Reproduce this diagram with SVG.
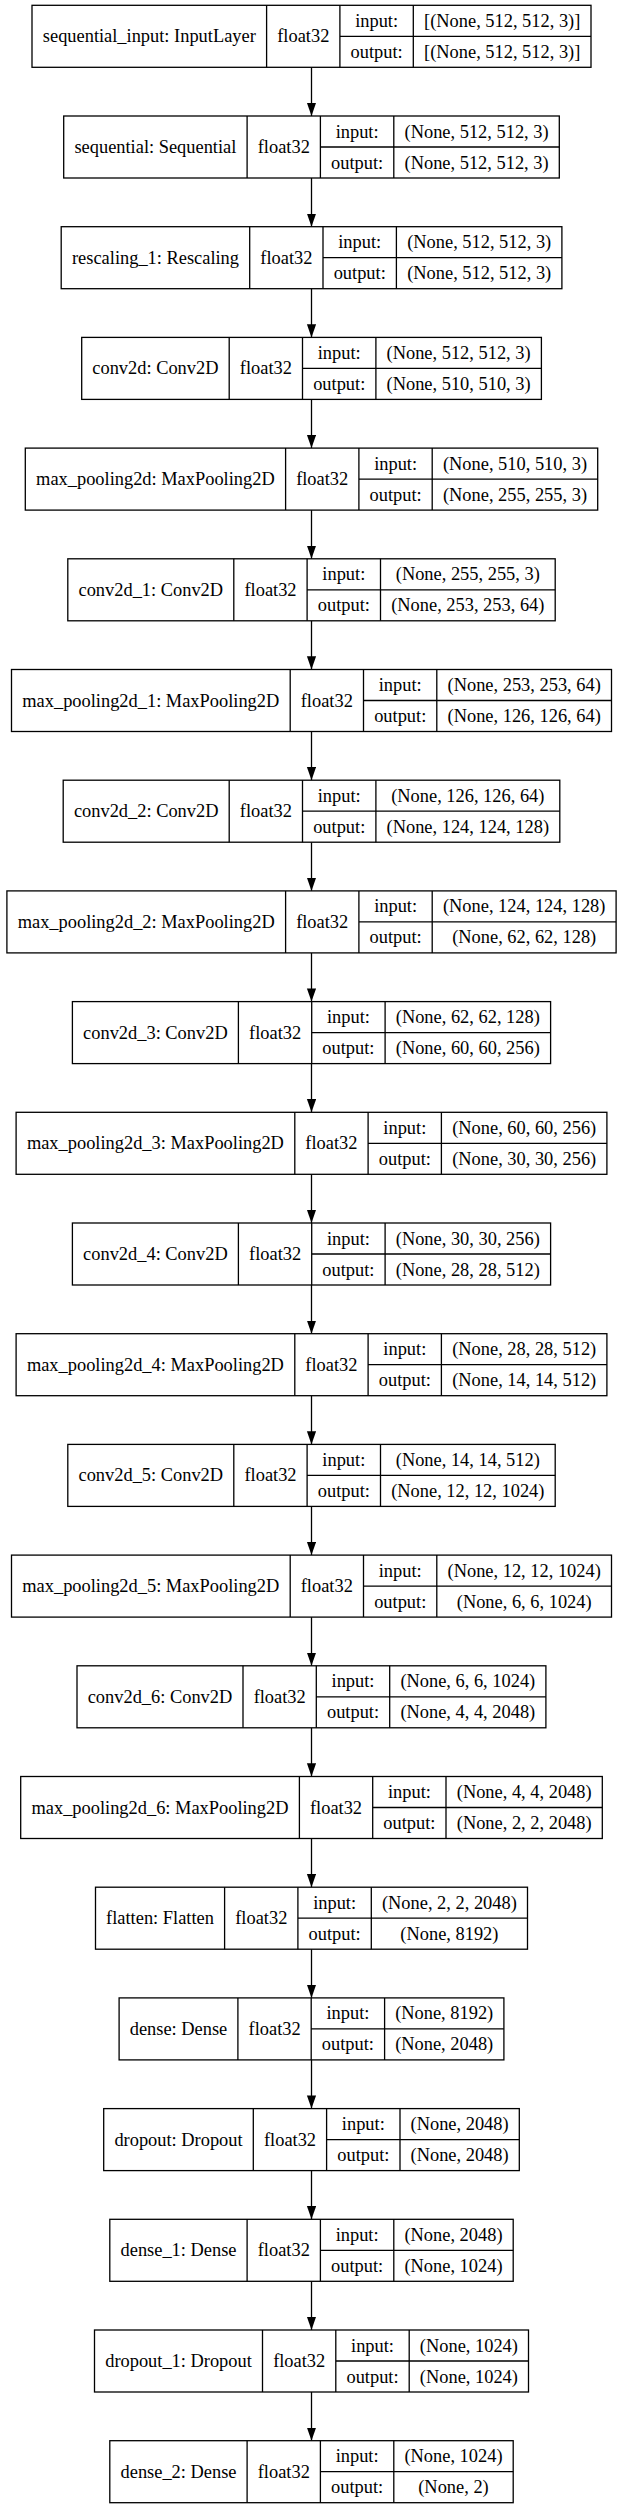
<svg xmlns="http://www.w3.org/2000/svg" width="623" height="2508" viewBox="0 0 623 2508">
<style>
.b{fill:#fff;stroke:#000;stroke-width:1.3}
.d{fill:none;stroke:#000;stroke-width:1.3}
.e{fill:none;stroke:#000;stroke-width:1.3;marker-end:url(#ah)}
text{font-family:"Liberation Serif","Times New Roman",serif;font-size:18.4px;text-anchor:middle;fill:#000}
</style>
<defs>
<marker id="ah" markerUnits="userSpaceOnUse" markerWidth="14" markerHeight="10" refX="13.2" refY="4.6" orient="auto"><path d="M0,0 L13.2,4.6 L0,9.2 z" fill="#000"/></marker>
</defs>
<rect width="623" height="2508" fill="#fff"/>
<g id="edges">
<path class="e" d="M311.5 67.3V116"/>
<path class="e" d="M311.5 178V226.7"/>
<path class="e" d="M311.5 288.7V337.4"/>
<path class="e" d="M311.5 399.4V448.1"/>
<path class="e" d="M311.5 510.1V558.8"/>
<path class="e" d="M311.5 620.8V669.5"/>
<path class="e" d="M311.5 731.5V780.2"/>
<path class="e" d="M311.5 842.2V890.9"/>
<path class="e" d="M311.5 952.9V1001.6"/>
<path class="e" d="M311.5 1063.6V1112.3"/>
<path class="e" d="M311.5 1174.3V1223"/>
<path class="e" d="M311.5 1285V1333.7"/>
<path class="e" d="M311.5 1395.7V1444.4"/>
<path class="e" d="M311.5 1506.4V1555.1"/>
<path class="e" d="M311.5 1617.1V1665.8"/>
<path class="e" d="M311.5 1727.8V1776.5"/>
<path class="e" d="M311.5 1838.5V1887.2"/>
<path class="e" d="M311.5 1949.2V1997.9"/>
<path class="e" d="M311.5 2059.9V2108.6"/>
<path class="e" d="M311.5 2170.6V2219.3"/>
<path class="e" d="M311.5 2281.3V2330"/>
<path class="e" d="M311.5 2392V2440.7"/>
</g>
<g id="sequential_input" transform="translate(0,5.3)">
<rect class="b" x="32" y="0" width="559" height="62"/>
<path class="d" d="M266.6 0V62M339.9 0V62M413.3 0V62M339.9 31H591"/>
<text x="149.3" y="37">sequential_input: InputLayer</text><text x="303.3" y="37">float32</text>
<text x="376.6" y="21.5">input:</text><text x="376.6" y="52.5">output:</text>
<text x="502.2" y="21.5">[(None, 512, 512, 3)]</text><text x="502.2" y="52.5">[(None, 512, 512, 3)]</text>
</g>
<g id="sequential" transform="translate(0,116)">
<rect class="b" x="63.7" y="0" width="495.6" height="62"/>
<path class="d" d="M247.1 0V62M320.4 0V62M393.8 0V62M320.4 31H559.3"/>
<text x="155.4" y="37">sequential: Sequential</text><text x="283.8" y="37">float32</text>
<text x="357.1" y="21.5">input:</text><text x="357.1" y="52.5">output:</text>
<text x="476.6" y="21.5">(None, 512, 512, 3)</text><text x="476.6" y="52.5">(None, 512, 512, 3)</text>
</g>
<g id="rescaling_1" transform="translate(0,226.7)">
<rect class="b" x="61.2" y="0" width="500.7" height="62"/>
<path class="d" d="M249.7 0V62M323 0V62M396.4 0V62M323 31H561.9"/>
<text x="155.5" y="37">rescaling_1: Rescaling</text><text x="286.4" y="37">float32</text>
<text x="359.7" y="21.5">input:</text><text x="359.7" y="52.5">output:</text>
<text x="479.2" y="21.5">(None, 512, 512, 3)</text><text x="479.2" y="52.5">(None, 512, 512, 3)</text>
</g>
<g id="conv2d" transform="translate(0,337.4)">
<rect class="b" x="81.7" y="0" width="459.7" height="62"/>
<path class="d" d="M229.2 0V62M302.5 0V62M375.9 0V62M302.5 31H541.4"/>
<text x="155.4" y="37">conv2d: Conv2D</text><text x="265.9" y="37">float32</text>
<text x="339.2" y="21.5">input:</text><text x="339.2" y="52.5">output:</text>
<text x="458.6" y="21.5">(None, 512, 512, 3)</text><text x="458.6" y="52.5">(None, 510, 510, 3)</text>
</g>
<g id="max_pooling2d" transform="translate(0,448.1)">
<rect class="b" x="25.3" y="0" width="572.4" height="62"/>
<path class="d" d="M285.6 0V62M358.9 0V62M432.2 0V62M358.9 31H597.7"/>
<text x="155.4" y="37">max_pooling2d: MaxPooling2D</text><text x="322.2" y="37">float32</text>
<text x="395.6" y="21.5">input:</text><text x="395.6" y="52.5">output:</text>
<text x="515" y="21.5">(None, 510, 510, 3)</text><text x="515" y="52.5">(None, 255, 255, 3)</text>
</g>
<g id="conv2d_1" transform="translate(0,558.8)">
<rect class="b" x="67.8" y="0" width="487.4" height="62"/>
<path class="d" d="M233.8 0V62M307.1 0V62M380.5 0V62M307.1 31H555.2"/>
<text x="150.8" y="37">conv2d_1: Conv2D</text><text x="270.5" y="37">float32</text>
<text x="343.8" y="21.5">input:</text><text x="343.8" y="52.5">output:</text>
<text x="467.8" y="21.5">(None, 255, 255, 3)</text><text x="467.8" y="52.5">(None, 253, 253, 64)</text>
</g>
<g id="max_pooling2d_1" transform="translate(0,669.5)">
<rect class="b" x="11.5" y="0" width="600" height="62"/>
<path class="d" d="M290.2 0V62M363.5 0V62M436.8 0V62M363.5 31H611.5"/>
<text x="150.8" y="37">max_pooling2d_1: MaxPooling2D</text><text x="326.8" y="37">float32</text>
<text x="400.2" y="21.5">input:</text><text x="400.2" y="52.5">output:</text>
<text x="524.2" y="21.5">(None, 253, 253, 64)</text><text x="524.2" y="52.5">(None, 126, 126, 64)</text>
</g>
<g id="conv2d_2" transform="translate(0,780.2)">
<rect class="b" x="63.2" y="0" width="496.6" height="62"/>
<path class="d" d="M229.2 0V62M302.5 0V62M375.9 0V62M302.5 31H559.8"/>
<text x="146.2" y="37">conv2d_2: Conv2D</text><text x="265.9" y="37">float32</text>
<text x="339.2" y="21.5">input:</text><text x="339.2" y="52.5">output:</text>
<text x="467.8" y="21.5">(None, 126, 126, 64)</text><text x="467.8" y="52.5">(None, 124, 124, 128)</text>
</g>
<g id="max_pooling2d_2" transform="translate(0,890.9)">
<rect class="b" x="6.9" y="0" width="609.2" height="62"/>
<path class="d" d="M285.6 0V62M358.9 0V62M432.2 0V62M358.9 31H616.1"/>
<text x="146.2" y="37">max_pooling2d_2: MaxPooling2D</text><text x="322.2" y="37">float32</text>
<text x="395.6" y="21.5">input:</text><text x="395.6" y="52.5">output:</text>
<text x="524.2" y="21.5">(None, 124, 124, 128)</text><text x="524.2" y="52.5">(None, 62, 62, 128)</text>
</g>
<g id="conv2d_3" transform="translate(0,1001.6)">
<rect class="b" x="72.4" y="0" width="478.2" height="62"/>
<path class="d" d="M238.4 0V62M311.7 0V62M385.1 0V62M311.7 31H550.6"/>
<text x="155.4" y="37">conv2d_3: Conv2D</text><text x="275.1" y="37">float32</text>
<text x="348.4" y="21.5">input:</text><text x="348.4" y="52.5">output:</text>
<text x="467.8" y="21.5">(None, 62, 62, 128)</text><text x="467.8" y="52.5">(None, 60, 60, 256)</text>
</g>
<g id="max_pooling2d_3" transform="translate(0,1112.3)">
<rect class="b" x="16.1" y="0" width="590.8" height="62"/>
<path class="d" d="M294.8 0V62M368.1 0V62M441.4 0V62M368.1 31H606.9"/>
<text x="155.4" y="37">max_pooling2d_3: MaxPooling2D</text><text x="331.4" y="37">float32</text>
<text x="404.8" y="21.5">input:</text><text x="404.8" y="52.5">output:</text>
<text x="524.2" y="21.5">(None, 60, 60, 256)</text><text x="524.2" y="52.5">(None, 30, 30, 256)</text>
</g>
<g id="conv2d_4" transform="translate(0,1223)">
<rect class="b" x="72.4" y="0" width="478.2" height="62"/>
<path class="d" d="M238.4 0V62M311.7 0V62M385.1 0V62M311.7 31H550.6"/>
<text x="155.4" y="37">conv2d_4: Conv2D</text><text x="275.1" y="37">float32</text>
<text x="348.4" y="21.5">input:</text><text x="348.4" y="52.5">output:</text>
<text x="467.8" y="21.5">(None, 30, 30, 256)</text><text x="467.8" y="52.5">(None, 28, 28, 512)</text>
</g>
<g id="max_pooling2d_4" transform="translate(0,1333.7)">
<rect class="b" x="16.1" y="0" width="590.8" height="62"/>
<path class="d" d="M294.8 0V62M368.1 0V62M441.4 0V62M368.1 31H606.9"/>
<text x="155.4" y="37">max_pooling2d_4: MaxPooling2D</text><text x="331.4" y="37">float32</text>
<text x="404.8" y="21.5">input:</text><text x="404.8" y="52.5">output:</text>
<text x="524.2" y="21.5">(None, 28, 28, 512)</text><text x="524.2" y="52.5">(None, 14, 14, 512)</text>
</g>
<g id="conv2d_5" transform="translate(0,1444.4)">
<rect class="b" x="67.8" y="0" width="487.4" height="62"/>
<path class="d" d="M233.8 0V62M307.1 0V62M380.5 0V62M307.1 31H555.2"/>
<text x="150.8" y="37">conv2d_5: Conv2D</text><text x="270.5" y="37">float32</text>
<text x="343.8" y="21.5">input:</text><text x="343.8" y="52.5">output:</text>
<text x="467.8" y="21.5">(None, 14, 14, 512)</text><text x="467.8" y="52.5">(None, 12, 12, 1024)</text>
</g>
<g id="max_pooling2d_5" transform="translate(0,1555.1)">
<rect class="b" x="11.5" y="0" width="600" height="62"/>
<path class="d" d="M290.2 0V62M363.5 0V62M436.8 0V62M363.5 31H611.5"/>
<text x="150.8" y="37">max_pooling2d_5: MaxPooling2D</text><text x="326.8" y="37">float32</text>
<text x="400.2" y="21.5">input:</text><text x="400.2" y="52.5">output:</text>
<text x="524.2" y="21.5">(None, 12, 12, 1024)</text><text x="524.2" y="52.5">(None, 6, 6, 1024)</text>
</g>
<g id="conv2d_6" transform="translate(0,1665.8)">
<rect class="b" x="77" y="0" width="468.9" height="62"/>
<path class="d" d="M243 0V62M316.3 0V62M389.7 0V62M316.3 31H545.9"/>
<text x="160" y="37">conv2d_6: Conv2D</text><text x="279.7" y="37">float32</text>
<text x="353" y="21.5">input:</text><text x="353" y="52.5">output:</text>
<text x="467.8" y="21.5">(None, 6, 6, 1024)</text><text x="467.8" y="52.5">(None, 4, 4, 2048)</text>
</g>
<g id="max_pooling2d_6" transform="translate(0,1776.5)">
<rect class="b" x="20.7" y="0" width="581.6" height="62"/>
<path class="d" d="M299.4 0V62M372.7 0V62M446 0V62M372.7 31H602.3"/>
<text x="160" y="37">max_pooling2d_6: MaxPooling2D</text><text x="336" y="37">float32</text>
<text x="409.4" y="21.5">input:</text><text x="409.4" y="52.5">output:</text>
<text x="524.2" y="21.5">(None, 4, 4, 2048)</text><text x="524.2" y="52.5">(None, 2, 2, 2048)</text>
</g>
<g id="flatten" transform="translate(0,1887.2)">
<rect class="b" x="95.5" y="0" width="432" height="62"/>
<path class="d" d="M224.6 0V62M297.9 0V62M371.3 0V62M297.9 31H527.5"/>
<text x="160" y="37">flatten: Flatten</text><text x="261.3" y="37">float32</text>
<text x="334.6" y="21.5">input:</text><text x="334.6" y="52.5">output:</text>
<text x="449.4" y="21.5">(None, 2, 2, 2048)</text><text x="449.4" y="52.5">(None, 8192)</text>
</g>
<g id="dense" transform="translate(0,1997.9)">
<rect class="b" x="119.1" y="0" width="384.8" height="62"/>
<path class="d" d="M237.9 0V62M311.2 0V62M384.6 0V62M311.2 31H503.9"/>
<text x="178.5" y="37">dense: Dense</text><text x="274.6" y="37">float32</text>
<text x="347.9" y="21.5">input:</text><text x="347.9" y="52.5">output:</text>
<text x="444.2" y="21.5">(None, 8192)</text><text x="444.2" y="52.5">(None, 2048)</text>
</g>
<g id="dropout" transform="translate(0,2108.6)">
<rect class="b" x="103.7" y="0" width="415.6" height="62"/>
<path class="d" d="M253.3 0V62M326.6 0V62M400 0V62M326.6 31H519.3"/>
<text x="178.5" y="37">dropout: Dropout</text><text x="290" y="37">float32</text>
<text x="363.3" y="21.5">input:</text><text x="363.3" y="52.5">output:</text>
<text x="459.6" y="21.5">(None, 2048)</text><text x="459.6" y="52.5">(None, 2048)</text>
</g>
<g id="dense_1" transform="translate(0,2219.3)">
<rect class="b" x="109.8" y="0" width="403.4" height="62"/>
<path class="d" d="M247.1 0V62M320.4 0V62M393.8 0V62M320.4 31H513.2"/>
<text x="178.5" y="37">dense_1: Dense</text><text x="283.8" y="37">float32</text>
<text x="357.1" y="21.5">input:</text><text x="357.1" y="52.5">output:</text>
<text x="453.5" y="21.5">(None, 2048)</text><text x="453.5" y="52.5">(None, 1024)</text>
</g>
<g id="dropout_1" transform="translate(0,2330)">
<rect class="b" x="94.5" y="0" width="434" height="62"/>
<path class="d" d="M262.5 0V62M335.8 0V62M409.2 0V62M335.8 31H528.5"/>
<text x="178.5" y="37">dropout_1: Dropout</text><text x="299.2" y="37">float32</text>
<text x="372.5" y="21.5">input:</text><text x="372.5" y="52.5">output:</text>
<text x="468.9" y="21.5">(None, 1024)</text><text x="468.9" y="52.5">(None, 1024)</text>
</g>
<g id="dense_2" transform="translate(0,2440.7)">
<rect class="b" x="109.8" y="0" width="403.4" height="62"/>
<path class="d" d="M247.1 0V62M320.4 0V62M393.8 0V62M320.4 31H513.2"/>
<text x="178.5" y="37">dense_2: Dense</text><text x="283.8" y="37">float32</text>
<text x="357.1" y="21.5">input:</text><text x="357.1" y="52.5">output:</text>
<text x="453.5" y="21.5">(None, 1024)</text><text x="453.5" y="52.5">(None, 2)</text>
</g>
</svg>
